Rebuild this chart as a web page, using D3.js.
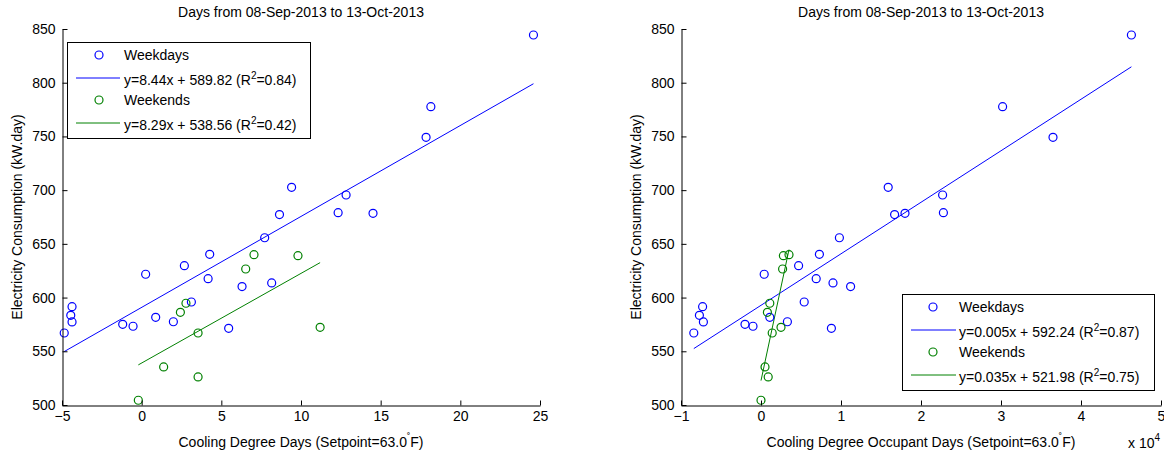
<!DOCTYPE html>
<html><head><meta charset="utf-8">
<script src="https://cdn.jsdelivr.net/npm/d3@7"></script>
<style>
body{margin:0;background:#fff;}
text{font-family:"Liberation Sans",Arial,Helvetica,sans-serif;fill:#000;}
</style></head>
<body><svg id="c" width="1164" height="454"></svg>
<script>
// ---- data ----
const weekdayKWh  = [567.0, 591.5, 583.5, 577.3, 575.1, 573.3, 621.7, 581.6, 577.5, 629.7, 595.9, 617.6, 640.3, 571.4, 610.2, 655.7, 613.6, 702.6, 677.3, 695.5, 679.0, 678.4, 749.2, 777.7, 844.4];
const weekdayCDD  = [-4.86, -4.37, -4.45, -4.37, -1.19, -0.54, 0.25, 0.88, 1.99, 2.68, 3.12, 4.17, 4.27, 5.46, 6.30, 7.72, 8.16, 9.41, 8.65, 12.83, 12.33, 14.52, 17.85, 18.15, 24.59];
const weekdayCDOD = [-8400, -7300, -7700, -7200, -2000, -1000, 400, 1100, 3300, 4700, 5400, 6900, 7300, 8800, 11200, 9800, 9000, 15900, 16700, 22700, 22800, 18000, 36500, 30200, 46300];
const weekendKWh  = [504.4, 535.4, 586.3, 594.7, 567.0, 526.1, 626.6, 639.9, 639.0, 572.3];
const weekendCDD  = [-0.21, 1.38, 2.43, 2.78, 3.54, 3.54, 6.53, 7.05, 9.81, 11.20];
const weekendCDOD = [0, 500, 800, 1100, 1400, 900, 2700, 3500, 2800, 2500];

const yTicks = [500, 550, 600, 650, 700, 750, 800, 850];
const xTicksLeft = [-5, 0, 5, 10, 15, 20, 25];
const xTicksRight = [-10000, 0, 10000, 20000, 30000, 40000, 50000];

const titleText = "Days from 08-Sep-2013 to 13-Oct-2013";
const yLabelText = "Electricity Consumption (kW.day)";
const legendLeft = [
  {name:"Weekdays", eq:"y=8.44x + 589.82 (R", r2:"=0.84)"},
  {name:"Weekends", eq:"y=8.29x + 538.56 (R", r2:"=0.42)"}];
const legendRight = [
  {name:"Weekdays", eq:"y=0.005x + 592.24 (R", r2:"=0.87)"},
  {name:"Weekends", eq:"y=0.035x + 521.98 (R", r2:"=0.75)"}];

const BLUE = "#0000ff", GREEN = "#008000";
const FS = 14;

const svg = d3.select("#c");
const y = d3.scaleLinear().domain([500, 850]).range([405, 29]);

function fit(xs, ys){
  const n = xs.length, mx = d3.mean(xs), my = d3.mean(ys);
  let sxy = 0, sxx = 0;
  for (let i = 0; i < n; i++){ sxy += (xs[i]-mx)*(ys[i]-my); sxx += (xs[i]-mx)**2; }
  const b = sxy/sxx; return {b, a: my - b*mx};
}

function panel(cfg){
  const g = svg.append("g");
  const x = d3.scaleLinear().domain(cfg.domain).range(cfg.range);
  const series = [
    {xs: cfg.wx, ys: weekdayKWh, c: BLUE},
    {xs: cfg.wx2, ys: weekendKWh, c: GREEN}];
  // fit lines
  series.forEach(s => {
    const f = fit(s.xs, s.ys);
    const x0 = d3.min(s.xs), x1 = d3.max(s.xs);
    g.append("line").attr("x1", x(x0)).attr("y1", y(f.a+f.b*x0))
      .attr("x2", x(x1)).attr("y2", y(f.a+f.b*x1))
      .attr("stroke", s.c).attr("stroke-width", 1);
  });
  // points
  series.forEach(s => {
    g.selectAll(null).data(s.xs.map((v,i)=>[v, s.ys[i]])).enter().append("circle")
      .attr("cx", d=>x(d[0])).attr("cy", d=>y(d[1])).attr("r", 4)
      .attr("fill", "none").attr("stroke", s.c).attr("stroke-width", 1.2);
  });
  // axes
  const ax = d3.axisBottom(x).tickValues(cfg.ticks).tickSizeInner(-5).tickSizeOuter(0).tickPadding(6)
    .tickFormat(cfg.fmt);
  const gx = g.append("g").attr("transform", "translate(0,405.5)").call(ax);
  const ay = d3.axisLeft(y).tickValues(yTicks).tickSizeInner(-5).tickSizeOuter(0).tickPadding(7);
  const gy = g.append("g").attr("transform", `translate(${cfg.range[0]+0.5},0)`).call(ay);
  [gx, gy].forEach(a => {
    a.selectAll("text").attr("font-size", FS).attr("font-family", '"Liberation Sans",Arial,sans-serif').attr("fill", "#000");
    a.selectAll("path,line").attr("stroke", "#000");
  });
  const cx = (cfg.range[0]+cfg.range[1])/2;
  g.append("text").attr("x", cx).attr("y", 17).attr("text-anchor", "middle").attr("font-size", FS).text(titleText);
  g.append("text").attr("transform", `translate(${cfg.range[0]-45},217) rotate(-90)`)
    .attr("text-anchor", "middle").attr("dy", "0.35em").attr("font-size", FS).text(yLabelText);
  const xl = g.append("text").attr("x", cx).attr("y", 447).attr("text-anchor", "middle").attr("font-size", FS);
  xl.append("tspan").text(cfg.xlabel + " (Setpoint=63.0");
  xl.append("tspan").attr("font-size", 10).attr("dy", -6).text("\u02DA");
  xl.append("tspan").attr("dy", 6).text("F)");
  if (cfg.exp){
    const e = g.append("text").attr("x", 1128).attr("y", 448).attr("font-size", FS);
    e.append("tspan").text("x 10");
    e.append("tspan").attr("font-size", 10).attr("dy", -7).text("4");
  }
  // legend
  const L = cfg.legend;
  g.append("rect").attr("x", L.x+0.5).attr("y", L.y+0.5).attr("width", L.w).attr("height", L.h)
    .attr("fill", "#fff").attr("stroke", "#000");
  cfg.legendItems.forEach((it, i) => {
    const c = i === 0 ? BLUE : GREEN;
    const base = L.y + 13 + i*45;
    g.append("circle").attr("cx", L.mx).attr("cy", base).attr("r", 4)
      .attr("fill", "none").attr("stroke", c).attr("stroke-width", 1.2);
    g.append("text").attr("x", L.tx).attr("y", base).attr("dy", "0.35em").attr("font-size", FS).text(it.name);
    g.append("line").attr("x1", L.lx0).attr("x2", L.lx1).attr("y1", base+23).attr("y2", base+23)
      .attr("stroke", c).attr("stroke-width", 1);
    const t = g.append("text").attr("x", L.tx).attr("y", base+25).attr("dy", "0.35em").attr("font-size", FS);
    t.append("tspan").text(it.eq);
    t.append("tspan").attr("font-size", 10).attr("dy", -6).text("2");
    t.append("tspan").attr("dy", 6).text(it.r2);
  });
}

panel({domain:[-5,25], range:[62,540], ticks:xTicksLeft, fmt:d3.format("d"),
  wx: weekdayCDD, wx2: weekendCDD, xlabel:"Cooling Degree Days", exp:false,
  legend:{x:67, y:42, w:243, h:96, mx:99, tx:124, lx0:76, lx1:120},
  legendItems: legendLeft});
panel({domain:[-10000,50000], range:[681,1161], ticks:xTicksRight, fmt:d=>d3.format("d")(d/1e4),
  wx: weekdayCDOD, wx2: weekendCDOD, xlabel:"Cooling Degree Occupant Days", exp:true,
  legend:{x:902, y:294, w:252, h:96, mx:933, tx:959, lx0:911, lx1:956},
  legendItems: legendRight});
</script></body></html>
